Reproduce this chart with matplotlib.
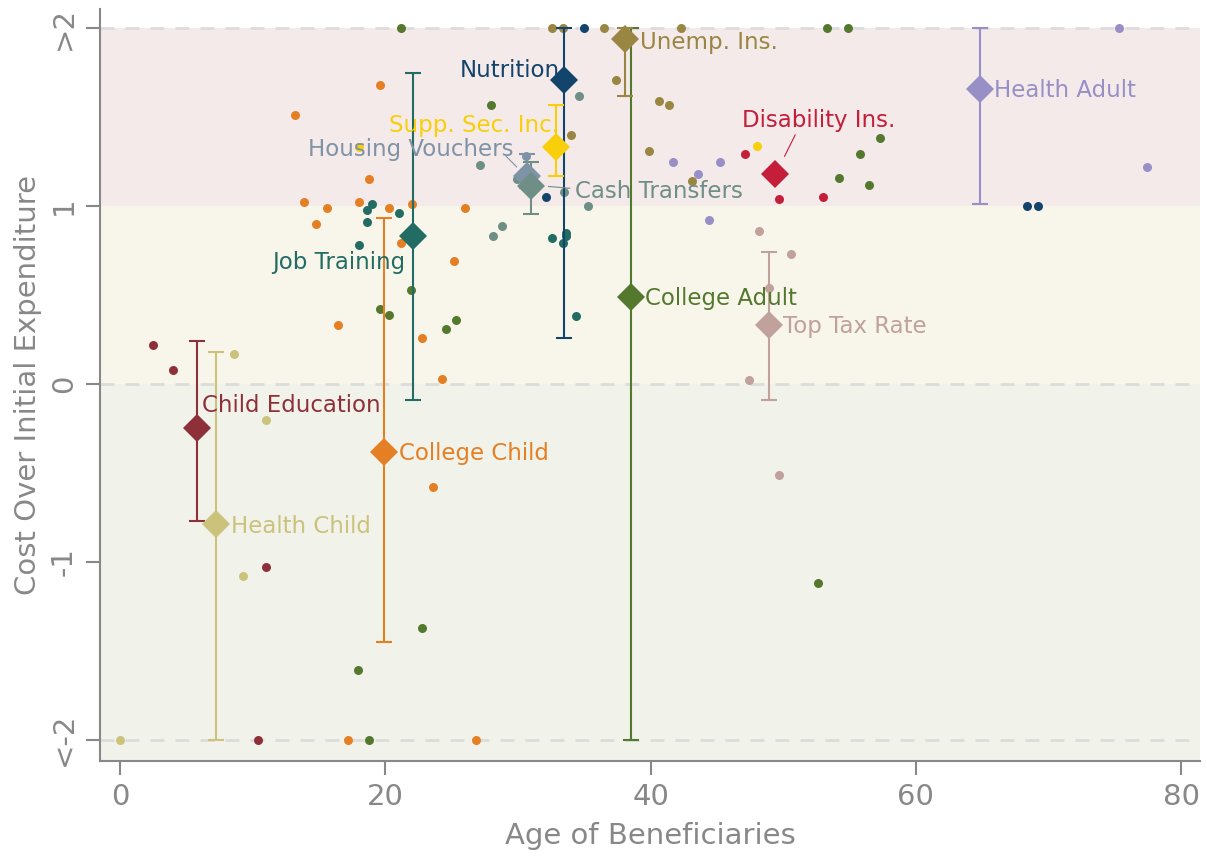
import matplotlib
matplotlib.use('Agg')
import matplotlib.pyplot as plt
import numpy as np

# Programs, in drawing order
programs = ['Child Education', 'Health Child', 'College Child', 'Job Training',
            'College Adult', 'Nutrition', 'Supp. Sec. Inc.', 'Housing Vouchers',
            'Cash Transfers', 'Unemp. Ins.', 'Disability Ins.', 'Health Adult',
            'Top Tax Rate']
colors = ['#8E3039', '#CBC27C', '#E57F24', '#236C63', '#55782F', '#13446B',
          '#F8CF0A', '#7F93A6', '#6F8E85', '#9A8643', '#C41E3A', '#978FC6',
          '#C0A19B']

# Average age of beneficiaries and cost over initial expenditure
mean_age = [5.8, 7.2, 19.9, 22.1, 38.5, 33.5, 32.9, 30.7, 31.0, 38.1, 49.4, 64.8, 48.9]
mean_cost = [-0.25, -0.79, -0.38, 0.83, 0.49, 1.71, 1.33, 1.17, 1.11, 1.94, 1.18, 1.66, 0.33]
err_lo = [-0.77, -2.0, -1.45, -0.09, -2.0, 0.26, 1.17, 1.10, 0.955, 1.62, np.nan, 1.01, -0.09]
err_hi = [0.24, 0.18, 0.93, 1.75, 2.0, 2.0, 1.57, 1.29, 1.25, 2.0, np.nan, 2.0, 0.74]

# Individual policies behind each program
dot_age = [
    [2.5, 4.0, 11.0, 10.4],
    [8.6, 11.0, 9.3, 0.0],
    [19.6, 13.2, 18.8, 13.9, 15.6, 18.0, 20.3, 22.0, 26.0, 14.8, 21.2, 25.2,
     16.4, 22.8, 24.3, 23.6, 17.2, 26.8],
    [19.0, 18.6, 18.6, 21.0, 18.0, 32.6, 33.6, 33.6, 33.4, 34.4],
    [21.2, 28.0, 53.3, 54.9, 57.3, 55.8, 54.2, 56.5, 21.9, 19.6, 20.3, 24.6,
     25.3, 52.6, 17.9, 22.8, 18.8],
    [35.0, 32.1, 68.4, 69.2],
    [18.0, 48.0],
    [30.6],
    [27.1, 34.6, 33.5, 35.3, 28.8, 28.1, 29.9],
    [32.6, 33.4, 36.5, 42.3, 37.4, 40.6, 41.4, 34.0, 39.9, 43.1],
    [47.1, 49.7, 53.0],
    [75.3, 77.4, 41.7, 43.6, 45.2, 44.4],
    [48.2, 50.6, 48.9, 47.4, 49.7],
]
dot_cost = [
    [0.22, 0.08, -1.03, -2.0],
    [0.17, -0.20, -1.08, -2.0],
    [1.68, 1.51, 1.15, 1.02, 0.99, 1.02, 0.99, 1.01, 0.99, 0.90, 0.79, 0.69,
     0.33, 0.26, 0.03, -0.58, -2.0, -2.0],
    [1.01, 0.98, 0.91, 0.96, 0.78, 0.82, 0.85, 0.83, 0.79, 0.38],
    [2.0, 1.57, 2.0, 2.0, 1.38, 1.29, 1.16, 1.12, 0.53, 0.42, 0.39, 0.31,
     0.36, -1.12, -1.61, -1.37, -2.0],
    [2.0, 1.05, 1.0, 1.0],
    [1.33, 1.34],
    [1.28],
    [1.23, 1.62, 1.08, 1.0, 0.89, 0.83, 1.15],
    [2.0, 2.0, 2.0, 2.0, 1.71, 1.59, 1.57, 1.40, 1.31, 1.14],
    [1.29, 1.04, 1.05],
    [2.0, 1.22, 1.25, 1.18, 1.25, 0.92],
    [0.86, 0.73, 0.54, 0.02, -0.51],
]

# Label anchor (left edge) for each program
label_age = [6.2, 8.4, 21.0, 11.5, 39.6, 25.6, 20.3, 14.2, 34.3, 39.2, 46.9, 65.9, 50.0]
label_cost = [-0.12, -0.80, -0.39, 0.68, 0.48, 1.76, 1.45, 1.32, 1.08, 1.92, 1.48, 1.65, 0.32]

y_ticks = [-2, -1, 0, 1, 2]
y_tick_labels = ['<-2', '-1', '0', '1', '>2']
x_ticks = [0, 20, 40, 60, 80]

plt.rcParams['font.family'] = ['DejaVu Sans']
grey = '#888888'

fig = plt.figure(figsize=(12.07, 8.58), dpi=100)
ax = fig.add_axes([0.083, 0.113, 0.911, 0.877])
ax.set_xlim(-1.5, 81.4)
ax.set_ylim(-2.12, 2.11)

# Background bands
ax.axhspan(1, 2, color='#F4EAEA', zorder=0, lw=0)
ax.axhspan(0, 1, color='#F8F6EB', zorder=0, lw=0)
ax.axhspan(-2.12, 0, color='#F1F2EA', zorder=0, lw=0)
for yv in [-2, 0, 2]:
    ax.axhline(yv, color='#DCDCDC', lw=2, ls=(0, (5, 4)), zorder=1)

for i, name in enumerate(programs):
    ax.scatter(dot_age[i], dot_cost[i], s=42, color=colors[i], lw=0, zorder=3)

for i, name in enumerate(programs):
    c = colors[i]
    if not np.isnan(err_lo[i]):
        ax.errorbar([mean_age[i]], [mean_cost[i]],
                    yerr=[[mean_cost[i] - err_lo[i]], [err_hi[i] - mean_cost[i]]],
                    fmt='none', ecolor=c, elinewidth=1.5, capsize=6, capthick=1.5,
                    zorder=4)
    ax.plot(mean_age[i], mean_cost[i], marker='D', ms=14, color=c, mew=0, zorder=5)
    ax.text(label_age[i], label_cost[i], name, color=c, fontsize=16.5,
            ha='left', va='center', zorder=6)

# Leader lines for crowded labels
ax.plot([29.1, 29.9], [1.28, 1.22], color=colors[7], lw=0.8, zorder=6)
ax.plot([32.3, 33.9], [1.11, 1.10], color=colors[8], lw=0.8, zorder=6)
ax.plot([50.9, 50.1], [1.40, 1.28], color=colors[10], lw=0.8, zorder=6)

ax.set_xticks(x_ticks)
ax.set_yticks(y_ticks)
ax.set_yticklabels(y_tick_labels, rotation=90, va='center')
ax.tick_params(axis='both', colors=grey, labelsize=21, length=10, width=1.5,
               labelcolor=grey, pad=6)
ax.set_xlabel('Age of Beneficiaries', color=grey, fontsize=21, labelpad=8)
ax.set_ylabel('Cost Over Initial Expenditure', color=grey, fontsize=21, labelpad=6)

for side in ['top', 'right']:
    ax.spines[side].set_visible(False)
for side in ['left', 'bottom']:
    ax.spines[side].set_color(grey)
    ax.spines[side].set_linewidth(1.5)

fig.savefig('out.png', dpi=100)
